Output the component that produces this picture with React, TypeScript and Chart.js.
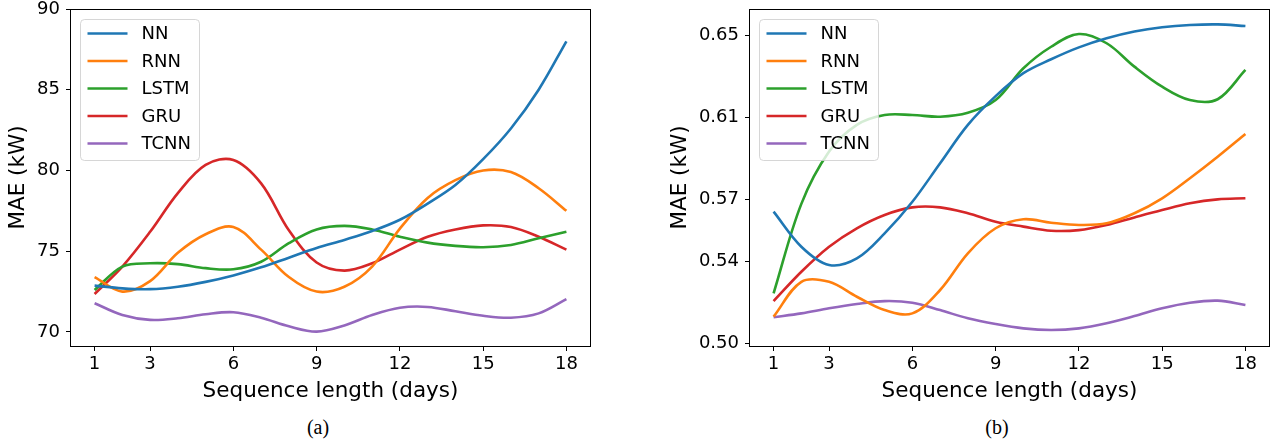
import React, { useEffect, useRef } from 'react';
import { Chart, registerables } from 'chart.js';

Chart.register(...registerables);

const days = [1, 2, 3, 4, 5, 6, 7, 8, 9, 10, 11, 12, 13, 14, 15, 16, 17, 18];
const xTicks = [1, 3, 6, 9, 12, 15, 18];
const seriesNames = ['NN', 'RNN', 'LSTM', 'GRU', 'TCNN'];
const colors = ['#1f77b4', '#ff7f0e', '#2ca02c', '#d62728', '#9467bd'];

// Panel (a)
const nnA = [72.87, 72.7, 72.65, 72.8, 73.1, 73.5, 74.0, 74.6, 75.2, 75.7, 76.25, 76.95, 77.95, 79.1, 80.7, 82.6, 85.0, 88.0];
const rnnA = [73.4, 72.5, 73.15, 74.9, 76.05, 76.5, 75.1, 73.4, 72.5, 72.8, 74.05, 76.4, 78.3, 79.4, 80.0, 79.9, 78.9, 77.5];
const lstmA = [72.6, 74.05, 74.25, 74.2, 73.95, 73.88, 74.35, 75.5, 76.35, 76.57, 76.35, 75.9, 75.53, 75.33, 75.25, 75.39, 75.8, 76.2];
const gruA = [72.35, 74.05, 76.2, 78.6, 80.35, 80.65, 79.2, 76.3, 74.3, 73.8, 74.25, 75.1, 75.9, 76.35, 76.6, 76.5, 75.9, 75.1];
const tcnnA = [71.78, 71.05, 70.75, 70.85, 71.1, 71.22, 70.88, 70.35, 70.02, 70.4, 71.05, 71.5, 71.55, 71.28, 71.0, 70.88, 71.15, 72.03];
const yTicksA = [70, 75, 80, 85, 90];

// Panel (b)
const nnB = [0.5642, 0.5471, 0.5382, 0.5414, 0.5536, 0.569, 0.5878, 0.6065, 0.6205, 0.6317, 0.6385, 0.6443, 0.6487, 0.652, 0.6541, 0.6552, 0.6555, 0.6547];
const rnnB = [0.513, 0.53, 0.53, 0.5227, 0.5162, 0.5146, 0.526, 0.5439, 0.5561, 0.5605, 0.5588, 0.5577, 0.5585, 0.5634, 0.5707, 0.5805, 0.591, 0.6021];
const lstmB = [0.5244, 0.568, 0.5935, 0.6065, 0.6113, 0.6113, 0.6105, 0.6124, 0.6186, 0.6341, 0.6446, 0.6508, 0.6463, 0.6349, 0.6251, 0.6186, 0.619, 0.6333];
const gruB = [0.5206, 0.5349, 0.5471, 0.5561, 0.5626, 0.5663, 0.5663, 0.5634, 0.5593, 0.5569, 0.5549, 0.5552, 0.5577, 0.5614, 0.565, 0.5683, 0.5702, 0.5707];
const tcnnB = [0.5127, 0.5146, 0.5171, 0.5192, 0.5206, 0.5198, 0.5162, 0.5122, 0.5094, 0.5073, 0.5065, 0.5073, 0.5098, 0.5133, 0.5171, 0.5198, 0.5208, 0.5187];
const yTicksB = [0.5, 0.54, 0.57, 0.61, 0.65];

const xTitle = 'Sequence length (days)';
const yTitle = 'MAE (kW)';

const FONT = '"DejaVu Sans", sans-serif';

const frameLegendPlugin = {
  id: 'frameLegend',
  afterDatasetsDraw(chart: any) {
    const { ctx, chartArea: a } = chart;
    ctx.save();
    ctx.strokeStyle = '#000';
    ctx.lineWidth = 1;
    ctx.strokeRect(Math.round(a.left) - 0.5, Math.round(a.top) + 0.5, Math.round(a.right - a.left) + 1, Math.round(a.bottom - a.top));
    const bx = a.left + 9.5;
    const by = a.top + 10.5;
    const bw = 119;
    const bh = 141;
    const r = 4;
    ctx.beginPath();
    ctx.moveTo(bx + r, by);
    ctx.lineTo(bx + bw - r, by);
    ctx.quadraticCurveTo(bx + bw, by, bx + bw, by + r);
    ctx.lineTo(bx + bw, by + bh - r);
    ctx.quadraticCurveTo(bx + bw, by + bh, bx + bw - r, by + bh);
    ctx.lineTo(bx + r, by + bh);
    ctx.quadraticCurveTo(bx, by + bh, bx, by + bh - r);
    ctx.lineTo(bx, by + r);
    ctx.quadraticCurveTo(bx, by, bx + r, by);
    ctx.closePath();
    ctx.fillStyle = 'rgba(255,255,255,0.8)';
    ctx.fill();
    ctx.strokeStyle = 'rgba(204,204,204,0.8)';
    ctx.lineWidth = 1;
    ctx.stroke();
    chart.data.datasets.forEach((ds: any, i: number) => {
      const y = by + 14 + i * 27.5;
      ctx.beginPath();
      ctx.strokeStyle = ds.borderColor;
      ctx.lineWidth = 2.6;
      ctx.moveTo(bx + 7, y);
      ctx.lineTo(bx + 47, y);
      ctx.stroke();
      ctx.fillStyle = '#000';
      ctx.font = '18px ' + FONT;
      ctx.textBaseline = 'middle';
      ctx.textAlign = 'left';
      ctx.fillText(ds.label, bx + 61, y + 1);
    });
    ctx.restore();
  },
};

type PanelProps = {
  series: number[][];
  yMin: number;
  yMax: number;
  yTicks: number[];
  decimals: number;
  width: number;
  height: number;
  padLeft: number;
  padRight: number;
  yAxisWidth: number;
};

function Panel(p: PanelProps) {
  const ref = useRef<HTMLCanvasElement | null>(null);
  useEffect(() => {
    if (!ref.current) return;
    const chart = new Chart(ref.current, {
      type: 'line',
      data: {
        datasets: p.series.map((arr, i) => ({
          label: seriesNames[i],
          data: days.map((d, j) => ({ x: d, y: arr[j] })),
          borderColor: colors[i],
          backgroundColor: colors[i],
          borderWidth: 2.6,
          pointRadius: 0,
          tension: 0.35,
          fill: false,
        })),
      },
      options: {
        animation: false,
        responsive: false,
        maintainAspectRatio: false,
        layout: { padding: { left: p.padLeft, right: p.padRight, top: 9, bottom: 0 } },
        plugins: { legend: { display: false }, tooltip: { enabled: false } },
        scales: {
          x: {
            type: 'linear',
            min: 0.15,
            max: 18.85,
            afterBuildTicks: (scale: any) => {
              scale.ticks = xTicks.map((v) => ({ value: v }));
            },
            afterFit: (scale: any) => {
              scale.height = p.height - 346;
              scale.paddingLeft = 0;
              scale.paddingRight = 0;
              scale.paddingTop = 0;
              scale.paddingBottom = 0;
            },
            ticks: {
              autoSkip: false,
              maxRotation: 0,
              padding: 4,
              color: '#000',
              font: { family: FONT, size: 18, lineHeight: 1 },
              callback: (v: any) => String(v),
            },
            grid: { display: true, drawOnChartArea: false, drawTicks: true, tickLength: 5, color: '#000', lineWidth: 1 },
            border: { display: false },
            title: {
              display: true,
              text: xTitle,
              color: '#000',
              font: { family: FONT, size: 21.5, lineHeight: 1.2 },
              padding: { top: 0, bottom: 6 },
            },
          },
          y: {
            type: 'linear',
            min: p.yMin,
            max: p.yMax,
            afterBuildTicks: (scale: any) => {
              scale.ticks = p.yTicks.map((v) => ({ value: v }));
            },
            afterFit: (scale: any) => {
              scale.width = p.yAxisWidth;
              scale.paddingLeft = 0;
              scale.paddingRight = 0;
              scale.paddingTop = 0;
              scale.paddingBottom = 0;
            },
            ticks: {
              autoSkip: false,
              padding: 6,
              color: '#000',
              font: { family: FONT, size: 18, lineHeight: 1 },
              callback: (v: any) => Number(v).toFixed(p.decimals),
            },
            grid: { display: true, drawOnChartArea: false, drawTicks: true, tickLength: 5, color: '#000', lineWidth: 1 },
            border: { display: false },
            title: {
              display: true,
              text: yTitle,
              color: '#000',
              font: { family: FONT, size: 21.5, lineHeight: 1.2 },
              padding: { top: 0, bottom: 0 },
            },
          },
        },
      } as any,
      plugins: [frameLegendPlugin],
    });
    return () => chart.destroy();
  }, []);
  return <canvas ref={ref} width={p.width} height={p.height} style={{ display: 'block', width: p.width, height: p.height }} />;
}

const captionStyle: React.CSSProperties = {
  position: 'absolute',
  top: 417,
  width: 60,
  textAlign: 'center',
  fontFamily: '"Liberation Serif", "Times New Roman", serif',
  fontSize: 20,
  lineHeight: '20px',
  color: '#000',
};

export default function App() {
  return (
    <div style={{ position: 'absolute', left: 0, top: 0, width: 1275, height: 444, background: '#fff', overflow: 'hidden' }}>
      <div style={{ position: 'absolute', left: 0, top: 0 }}>
        <Panel
          series={[nnA, rnnA, lstmA, gruA, tcnnA]}
          yMin={69.13}
          yMax={90}
          yTicks={yTicksA}
          decimals={0}
          width={637}
          height={410}
          padLeft={6}
          padRight={47}
          yAxisWidth={65}
        />
      </div>
      <div style={{ position: 'absolute', left: 637, top: 0 }}>
        <Panel
          series={[nnB, rnnB, lstmB, gruB, tcnnB]}
          yMin={0.4987}
          yMax={0.663}
          yTicks={yTicksB}
          decimals={2}
          width={638}
          height={410}
          padLeft={31}
          padRight={6}
          yAxisWidth={82}
        />
      </div>
      <div style={{ ...captionStyle, left: 318 - 30 }}>(a)</div>
      <div style={{ ...captionStyle, left: 997 - 30 }}>(b)</div>
    </div>
  );
}
